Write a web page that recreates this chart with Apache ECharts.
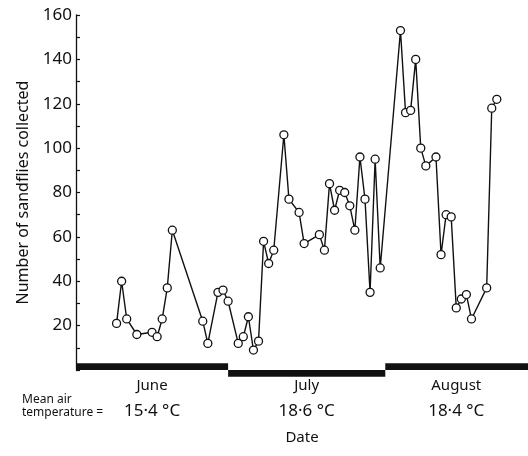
<!DOCTYPE html>
<html>
<head>
<meta charset="utf-8">
<script src="https://cdn.jsdelivr.net/npm/echarts@6/dist/echarts.min.js"></script>
<style>
  html, body { margin: 0; padding: 0; background: #fff; }
  #chart { width: 528px; height: 456px; }
</style>
</head>
<body>
<div id="chart"></div>
<script>
// day 0 = 1 June
var sampleDays = [8, 9, 10, 12, 15, 16, 17, 18, 19, 25, 26, 28, 29, 30, 32, 33, 34, 35, 36, 37, 38, 39,
  41, 42, 44, 45, 48, 49, 50, 51, 52, 53, 54, 55, 56, 57, 58, 59, 60,
  64, 65, 66, 67, 68, 69, 71, 72, 73, 74, 75, 76, 77, 78, 81, 82, 83];
var sandflies = [21, 40, 23, 16, 17, 15, 23, 37, 63, 22, 12, 35, 36, 31, 12, 15, 24, 9, 13, 58, 48, 54,
  106, 77, 71, 57, 61, 54, 84, 72, 81, 80, 74, 63, 96, 77, 35, 95, 46,
  153, 116, 117, 140, 100, 92, 96, 52, 70, 69, 28, 32, 34, 23, 37, 118, 122];

var months = ['June', 'July', 'August'];
var monthStart = [0, 30, 61];
var monthEnd = [30, 61, 92];
var monthLabelAt = [15, 45.5, 75];
var meanTemp = ['15·4 °C', '18·6 °C', '18·4 °C'];
var yTicks = [20, 40, 60, 80, 100, 120, 140, 160];

var font = 'Noto Sans';
var chart = echarts.init(document.getElementById('chart'));

var points = sampleDays.map(function (d, i) { return [d, sandflies[i]]; });
// month bars: June and August sit above the baseline, July below it
var monthBars = months.map(function (m, i) {
  return [monthStart[i], monthEnd[i], i % 2 === 0 ? 3 : -3];
});

var option = {
  animation: false,
  textStyle: { fontFamily: font, color: '#111' },
  grid: { left: 76, right: 0, top: 15, bottom: 86 },
  xAxis: {
    type: 'value',
    min: 0,
    max: 89.15,
    axisLine: { show: false },
    axisTick: { show: false },
    splitLine: { show: false },
    axisLabel: {
      customValues: monthLabelAt,
      margin: 4,
      formatter: function (v) {
        var i = monthLabelAt.indexOf(v);
        return '{m|' + months[i] + '}\n{t|' + meanTemp[i] + '}';
      },
      rich: {
        m: { fontSize: 15, lineHeight: 24, fontFamily: font, color: '#111' },
        t: { fontSize: 17, lineHeight: 26, fontFamily: font, color: '#111' }
      }
    },
    name: 'Date',
    nameLocation: 'middle',
    nameGap: 60,
    nameTextStyle: { fontSize: 15, fontFamily: font, color: '#111' }
  },
  yAxis: {
    type: 'value',
    min: 0,
    max: 160,
    interval: 20,
    axisLine: { show: true, lineStyle: { color: '#111', width: 1.3 } },
    axisTick: { show: true, inside: true, length: 4, lineStyle: { color: '#111', width: 1.2 } },
    minorTick: { show: true, splitNumber: 2, length: 4, lineStyle: { color: '#111', width: 1.2 } },
    splitLine: { show: false },
    axisLabel: {
      fontSize: 17,
      margin: 4,
      color: '#111',
      formatter: function (v) { return yTicks.indexOf(v) >= 0 ? String(v) : ''; }
    },
    name: 'Number of sandflies collected',
    nameLocation: 'middle',
    nameGap: 42,
    nameTextStyle: { fontSize: 16, fontFamily: font, color: '#111' }
  },
  graphic: [{
    type: 'text',
    left: 22,
    top: 393,
    style: {
      text: 'Mean air\ntemperature =',
      font: '12px "Noto Sans"',
      lineHeight: 13,
      fill: '#111'
    }
  }],
  series: [{
    type: 'custom',
    clip: false,
    data: monthBars,
    renderItem: function (params, api) {
      var a = api.coord([api.value(0), api.value(2)]);
      var b = api.coord([Math.min(api.value(1), 89.15), 0]);
      return {
        type: 'rect',
        shape: { x: a[0], y: Math.min(a[1], b[1]), width: b[0] - a[0], height: Math.abs(b[1] - a[1]) },
        style: { fill: '#111' }
      };
    },
    z: 1
  }, {
    type: 'line',
    data: points,
    symbol: 'circle',
    symbolSize: 8,
    lineStyle: { color: '#111', width: 1.4 },
    itemStyle: { color: '#fff', borderColor: '#111', borderWidth: 1.3 },
    z: 3
  }]
};

chart.setOption(option);
</script>
</body>
</html>
